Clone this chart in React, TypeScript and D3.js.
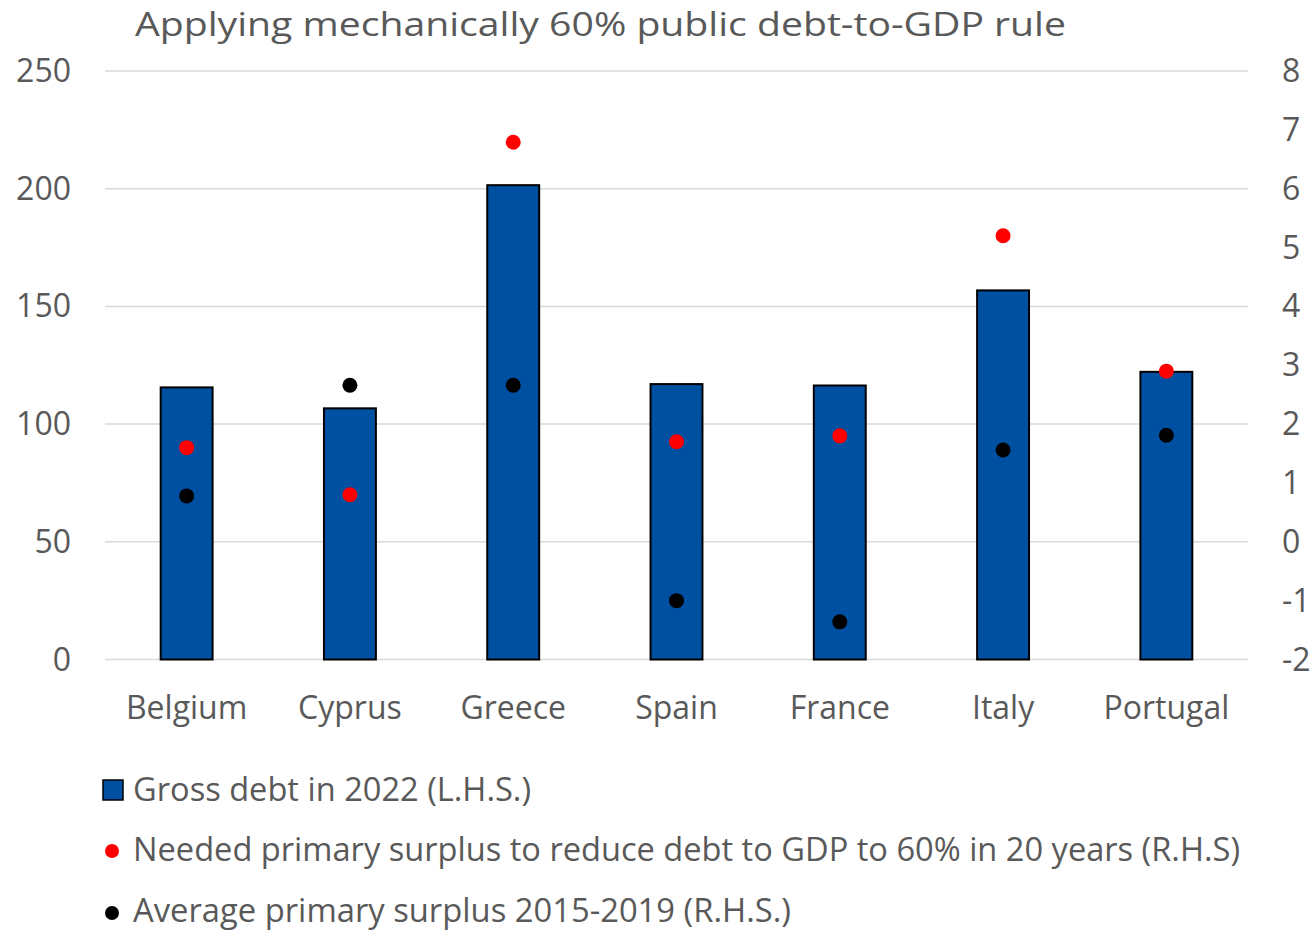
import React from "react";
import * as d3 from "d3";

const categories = ["Belgium", "Cyprus", "Greece", "Spain", "France", "Italy", "Portugal"];
const grossDebt = [115.6, 106.7, 201.5, 117.0, 116.4, 156.8, 122.2];
const neededSurplus = [1.6, 0.8, 6.79, 1.7, 1.8, 5.2, 2.9];
const avgSurplus = [0.78, 2.66, 2.66, -1.0, -1.36, 1.56, 1.81];
const leftTicks = [0, 50, 100, 150, 200, 250];
const rightTicks = [-2, -1, 0, 1, 2, 3, 4, 5, 6, 7, 8];
const title = "Applying mechanically 60% public debt-to-GDP rule";
const legendLabels = [
  "Gross debt in 2022 (L.H.S.)",
  "Needed primary surplus to reduce debt to GDP to 60% in 20 years (R.H.S)",
  "Average primary surplus 2015-2019 (R.H.S.)",
];

const W = 1314;
const H = 933;
const FONT = "'Open Sans', sans-serif";
const TXT = "#595959";
const BLUE = "#0050A2";

export default function App() {
  const x = d3.scaleBand<string>().domain(categories).range([105, 1248]).paddingInner(0.682).paddingOuter(0.341);
  const yL = d3.scaleLinear().domain([0, 250]).range([659.5, 71]);
  const yR = d3.scaleLinear().domain([-2, 8]).range([659.5, 71]);
  const bw = x.bandwidth();
  const cx = (c: string) => (x(c) as number) + bw / 2;

  return (
    <svg width={W} height={H} style={{ position: "absolute", left: 0, top: 0, background: "#fff" }} fontFamily={FONT}>
      <rect x={0} y={0} width={W} height={H} fill="#fff" />
      <text x={135} y={36} fontSize={33} fill={TXT} textLength={931} lengthAdjust="spacingAndGlyphs">{title}</text>
      {leftTicks.map((t) => (
        <line key={"g" + t} x1={105} x2={1248} y1={yL(t)} y2={yL(t)} stroke="#d9d9d9" strokeWidth={1.5} />
      ))}
      {leftTicks.map((t) => (
        <text key={"l" + t} x={71} y={yL(t) + 11} fontSize={32} fill={TXT} textAnchor="end">{t}</text>
      ))}
      {rightTicks.map((t) => (
        <text key={"r" + t} x={1282} y={yR(t) + 11} fontSize={32} fill={TXT}>{t}</text>
      ))}
      {categories.map((c, i) => (
        <rect key={"b" + c} x={x(c)} y={yL(grossDebt[i])} width={bw} height={yL(0) - yL(grossDebt[i])} fill={BLUE} stroke="#000" strokeWidth={2} />
      ))}
      {categories.map((c, i) => (
        <circle key={"n" + c} cx={cx(c)} cy={yR(neededSurplus[i])} r={7.5} fill="#ff0000" />
      ))}
      {categories.map((c, i) => (
        <circle key={"a" + c} cx={cx(c)} cy={yR(avgSurplus[i])} r={7.5} fill="#000" />
      ))}
      {categories.map((c) => (
        <text key={"c" + c} x={cx(c)} y={719} fontSize={32} fill={TXT} textAnchor="middle">{c}</text>
      ))}
      <rect x={103} y={780} width={20} height={20} fill={BLUE} stroke="#000" strokeWidth={1.5} />
      <text x={133} y={801} fontSize={32} fill={TXT} textLength={398} lengthAdjust="spacingAndGlyphs">{legendLabels[0]}</text>
      <circle cx={112} cy={851} r={7} fill="#ff0000" />
      <text x={133} y={861} fontSize={32} fill={TXT} textLength={1107} lengthAdjust="spacingAndGlyphs">{legendLabels[1]}</text>
      <circle cx={112} cy={913} r={7} fill="#000" />
      <text x={133} y={922} fontSize={32} fill={TXT} textLength={658} lengthAdjust="spacingAndGlyphs">{legendLabels[2]}</text>
    </svg>
  );
}
